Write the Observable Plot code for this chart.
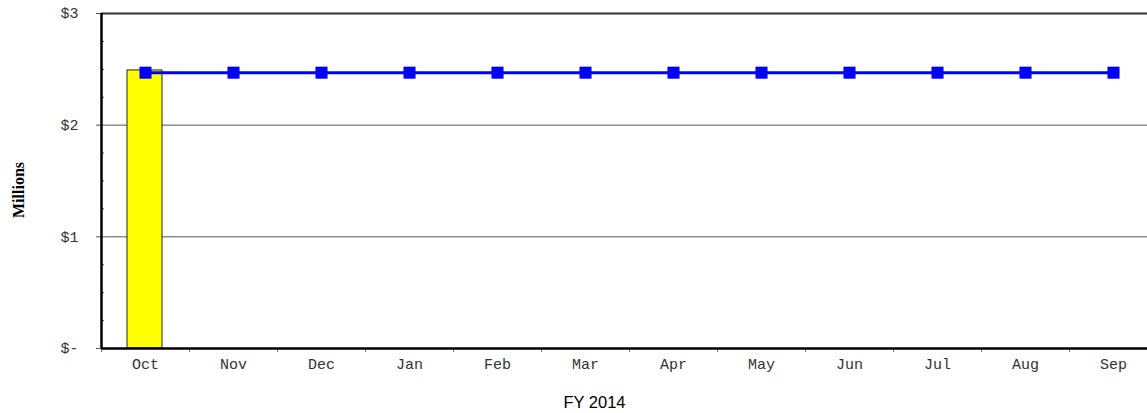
<!DOCTYPE html>
<html>
<head>
<meta charset="utf-8">
<script src="https://cdn.jsdelivr.net/npm/d3@7"></script>
<script src="https://cdn.jsdelivr.net/npm/@observablehq/plot@0.6"></script>
<style>
  html, body { margin: 0; padding: 0; background: #fff; overflow: hidden; }
  #chart svg { display: block; max-width: none !important; }
</style>
</head>
<body>
<div id="chart"></div>
<script>
const months = ["Oct","Nov","Dec","Jan","Feb","Mar","Apr","May","Jun","Jul","Aug","Sep"];
const barValues = [2.49, null, null, null, null, null, null, null, null, null, null, null];
const lineValues = [2.47, 2.47, 2.47, 2.47, 2.47, 2.47, 2.47, 2.47, 2.47, 2.47, 2.47, 2.47];
const yMajorTicks = [0, 1, 2, 3];
const yTickLabels = ["$-", "$1", "$2", "$3"];
const yMinorTicks = [0.25, 0.5, 0.75, 1.25, 1.5, 1.75, 2.25, 2.5, 2.75];
const yAxisTitle = "Millions";
const xAxisTitle = "FY 2014";

const barData = months.map((m, i) => ({month: m, value: barValues[i]})).filter(d => d.value != null);
const lineData = months.map((m, i) => ({month: m, value: lineValues[i]}));

const W = 1158, H = 413, ML = 101, MR = 1, MT = 13, MB = 65;
const step = (W - ML - MR) / months.length;
const mono = "'Liberation Mono', 'Courier New', monospace";

const chart = Plot.plot({
  width: W,
  height: H,
  marginLeft: ML,
  marginRight: MR,
  marginTop: MT,
  marginBottom: MB,
  style: {background: "#fff", fontFamily: mono, fontSize: "15px", color: "#222", overflow: "visible", maxWidth: "none"},
  x: {type: "band", domain: months, paddingInner: 0, paddingOuter: 0, round: false},
  y: {type: "linear", domain: [0, 3]},
  marks: [
    Plot.ruleY([1, 2], {stroke: "#555", strokeWidth: 1}),
    Plot.ruleY([3], {stroke: "#333", strokeWidth: 2}),
    Plot.barY(barData, {x: "month", y: "value", fill: "#ffff00", stroke: "#222", strokeWidth: 1, insetLeft: 26, insetRight: 27}),
    Plot.axisY({ticks: yMajorTicks, tickFormat: (d) => yTickLabels[yMajorTicks.indexOf(d)], tickSize: 5, tickPadding: 18, stroke: "#555", fontSize: 15, fill: "#333", label: null}),
    Plot.axisY({ticks: yMinorTicks, tickSize: 3, dx: 3, text: null, stroke: "#555", label: null}),
    Plot.axisX({tickSize: 0, tickPadding: 10, fontSize: 15, fill: "#333", label: null}),
    Plot.axisX({tickSize: 4, text: null, dx: -step / 2, stroke: "#777", label: null}),
    Plot.ruleX([months[0]], {dx: -step / 2, stroke: "#000", strokeWidth: 2.5}),
    Plot.ruleY([0], {stroke: "#000", strokeWidth: 2.5}),
    Plot.line(lineData, {x: "month", y: "value", stroke: "#0000ff", strokeWidth: 3}),
    Plot.dot(lineData, {x: "month", y: "value", symbol: "square", r: 6.8, fill: "#0000ff", stroke: "none"}),
    Plot.text([yAxisTitle], {frameAnchor: "left", dx: -83, dy: 37, rotate: -90, fontFamily: "'Liberation Serif', 'Times New Roman', serif", fontWeight: "bold", fontSize: 16, fill: "#000"}),
    Plot.text([xAxisTitle], {frameAnchor: "bottom", dy: 59, dx: -35, fontFamily: "'Liberation Sans', Arial, sans-serif", fontSize: 16.5, fill: "#000"})
  ]
});

document.getElementById("chart").appendChild(chart);
</script>
</body>
</html>
